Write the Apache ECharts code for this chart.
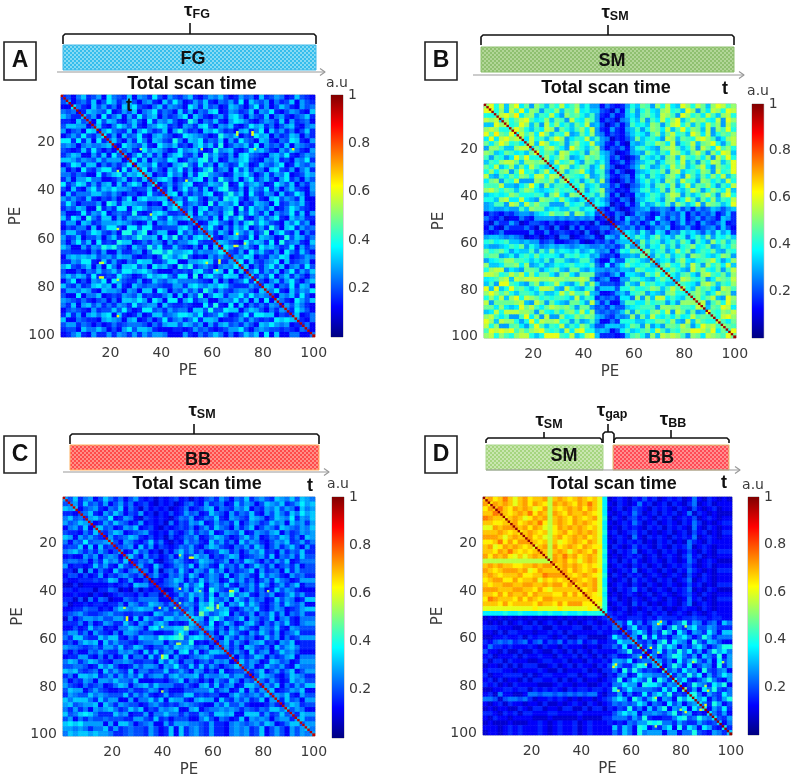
<!DOCTYPE html>
<html><head><meta charset="utf-8">
<script src="https://cdn.jsdelivr.net/npm/echarts@6/dist/echarts.min.js"></script>
<style>html,body{margin:0;padding:0;background:#fff}#c{width:794px;height:779px}</style></head>
<body><div id="c"></div>
<script>
// Correlation maps are symmetric: each row lists the upper triangle, two PE per letter.
// Letter code: a=0.04, b=0.08 ... y=1.00
const rowsA=[
"decfhdegci fedhcgfdie cgedfhdceg fhecdgefch degfcdhedc","gcefdhceig dfhecfgdch eifcdgehdc fegdichfeg cfdehcged",
"ifdchegdfc hgiedcfhdg fecigdhefc dhgecfidgc ehfdcgef","cdhgfeicdg ehcfgidfec hdgcfehicd gfdehcgfid cegfdch",
"hegcidfhcg dieghcfdeg ichfdcegdh ifcgedhcfg dcefhd","fciehgdcfh ecidgfhecd jgcfehdcgi hfdcegfdhc gdefc",
"ehdcfigehd cfgihdecgf dhiecgfhdc eighdfcegh dcfg","cgifedhcgi fdehcgjfde chgifdecgh dfichegdfc ehd",
"idgchefidc ghfecdihgf ecdjgfhced ighcfdehgc fd","fhecgdifch gedjfchgid fehcgdifec hgdcfeihdc g",
"dcigfehdci gfhdecgifh djcegfhdic gefdhcgfed","hegdcifhge cdifghecdj fghdceighf dcgehfdcg",
"gcfiehdgcf hiedgcjfhe dgchifedcg hfidcegf","eidhcgfeih cdgfijehcd gfhiedcgfh decgfid",
"chgfidecgh jfdiegchfd eigcdhfegi cdhfegc","fidgechfid gcehjdfgci ehdgfchied gcfhd",
"ghcedifgch dijgfecdhg ifcehdgfic dehg","dfhigcedfh icgdjfehcg idfhecgidf cge",
"icegdfhicd ehgfjcdieg hfcdigehcf dg","gdhcfiegdh cfijedgchf eidgcfhedc g",
"ehicgdfehi cdgjfhciedg fchdeigcf","cfgdihecfg djhiecfgdc hieg fdhc",
"hidfgecjdh gficedhgfc idegfhdc","fegchidfeg hcjdifgehc dfigedc",
"dhciegfdhj cgeifdhcge fidhcg","iefgdhcieg jdcfhegidc hfgd",
"gcdhifecgd hjfigedchf iegc","hfiecgdhfi cegdjfchid gef",
"egdhfcigeh dfjcgiedhc fd","idcfghedic hgfcdjehgd f",
"fhgedcifhg dicjefgdch","cigdfhecig hfdeicgdf",
"hedgcifhed gcifdhecd","dgfihcedgf ihcdegf",
"gichedfgic hdefgcd","ehcfdgiehc fgdie",
"cfidgehcfi dgehc","hdgeicfhdg ecfd",
"iecfhdgiec fhd","dhgcfeidhg ce","gfidchegfi d","ecgfhdiecg","hfdcigehf","cgehfdcg","fdigecf","ehcdfg","gdcfe","dfce","ecd","fd","ce","d"];
const rowsB=[
"mojnhmoilgmkhljnikmhjg g cfdcd g jhlkgmjnihomjnlhmonkm","ojmhnkoimlgkjmhlknijh h edbfc h kgjlihmnjkhomglinmjon",
"knompilmhkjnigmkljhk g dcfcd h igkljhnmkgomjlinkhmnj","hmjlnokijmhlkgnjimk g cedbf g jhlgkinjmohknlmjingom",
"njkomhlgnjmikhljng h ebdfc f kijhmlgknojmhlinkmgnk","lomjhkinmgljhkmin g dcgdc g hkgjmlinhkojmlhngmkoj",
"jnkmiolhkjnghlimg f cedcf h jigkmhlnjkhomingjlkmh","minjkhlomgikjnhk g fbdce g lhjkignmhlkjnomkgimnj",
"knhomijlgkmjinh g dcfcb h ghkjmlingjknhlmojgknmi","hljmnkigoljhkm f cedfc g jkihglmnkhjmgnliokmjh",
"ojlkhnmjikgmlh g ebcdg h gljhkinmjhlnkgmjonhmk","jmiknlghjmkli g dfcbd f kihjglmhnkjlimgnkojml",
"lhnjkmiglkhj g cdfce g hjkgilmjnhkgljnmhkomj","kinmhjlkgim g ebcdf h ljghkinkmhjlnigmkjonh",
"jmhklnigjk f cfdbc g hikjlgmnhjkimlgnjkomh","hlkjimghk g dcefc h jgkihlmjgnkhlimjnhkm",
"nikgjlhm f cbdfd g ikhjgmlhnkjgmlikhnjom","kjmhikg g dfcbe f hjgklimgjnhlkmjgkinm",
"hlgjkm f ecdcf g jkhilgmjhknlgjmkinhl","jikhl g cfbdc h gikjhlnmgkhjlnkgmoji",
"kgjh f dcfeb g hjkiglmhjnkglimhkjnm","hji g bdcfc f jghkilgmkhjngmlkhjom",
"g e cfdbc e fghefgfdhegdgefhgeghfe","f dcfeb dgfecdgefehcfdfegcehdf gefd",
"ebfc hfegdcifdgeh cegdfechgd fecd","cde gdfcehdgfceh dfcgedfhcd egc",
"hf egdfcegfhcde gdcefgdhec dfe","g ihfjgeihdgfjh igehfjgidh egf",
"jh kigjlhigkjfikhl gjikhljgi lhk","ig lhkjgikhljfkig mjlhkglj hmk",
"hk gjilhkgjkmijlg hkilgjmk jl","il hjkgimjlgikjl hgkjmilg ki",
"jg kilhjkgmlkihj mlgkjnkl hm","lh ijgkmihjklnjg imlkhjm kl",
"gk mjilhnkgmjlin hkmjln jm","ki ljhgnkmjilgkn jlmhk ln",
"mj hkligmnkjlhm kgnjl mo","ih nmkjlgimlkn jhml kn",
"lk jigmnlhkjmo lkin ml","nj hmklignmkl jon lm",
"il mkhjnlmgo kln mj","km jlnhgomkl inm o",
"ln gkmjolin mk ln","mh lkonimjl no",
"ok jmlnhl mo","lj nomkil n","nk ilmo jn","ml konim","jo lnmk","lnmjo","kmn","nl","mo","n"];
const rowsC=[
"gehdfgcehf dfcegdcdbd cdecdbdcef dgecfehdfg edhgfhehgf","fgdhefdgce gdfcdecbdc dbcefdcgde fcdhegfceh gfhdegigh",
"hcefgdcfeh cfdbecdcdb cdfcdeghcf edgfhcedgf hegfchfg","efhdcgehfc edgcdbdcec dgefcdhfec gdfehdcgeh fdhfigh",
"dghfeicdgf cbedcdcbdf egcdfehdcg fedhgfcehg fidgfh","fcdgehfecd gcdcdbfced gfhcdgefdh cegfdehfgc hfgdg",
"ghefcdgfhc decbdcdedf cegdhfecgd fhcegfdhgf egfhe","edfhgcdefg dcdcfdcegd fehcdgfehc dgfeghcfde gfg",
"cgdefhgdce cdbecdfegc dfhgecdfhe gcdfehgdfc hg","hecgfdcehd fcbdcgefdc hegdfchegf dcegfhdegd f",
"defgchdgce dcdfegdcfh gedcfegdhf cegdfhecgd","gcdhefcdbe cfhegdfcde hgdfcegfhd ecgdfehd",
"fhecgdecdf cgdehfgced fhgcdefgdh cfeg dhe","cdfegcbdeg fdcehgfdeg cfdhgecfdg ehcdf",
"egdchecdfg ehcgfdchef dgcehfdgce fdgce","dfcgbefdhe cgfdhegcfd efhcgdefch dge",
"cegdcfegdh fcegfdhceg fdchegfdcg efd","bdcefhgcfd hegfcdhegd fcegdhfecd g",
"cdefgdhegi cfgehdcfeg dhfcegdfhc e","dbcfegdhfc jgedfhcegd fcdhegfdc",
"ecdgehfgdh cgfjeghdcf egcdfhegd","cfdehcgdif egchfdgefc dhegfcdh",
"degfdhgjeh cgfiehfdce gdhfegc","fegchikfgh dcegfhdceg fcdegh",
"hgdlgefhic fdegcfehdg cfegd","ihgchjgdef hcgfdehcfg dcf",
"gfdicehfcd ghecfdgehd cfg","eghdfcgehf dcgfehdcgf e",
"dfcgehfdcg ehfdgcefhd","gechfdgefc dhegcfdeg",
"cfhdgecfgh decgfhcd","egdfchgedf cheghfd",
"fdgechdfgc ehfgec","gcfdehgcfd eghcf",
"dhegfcdhge fcdg","fegcdhfegd chf",
"gdfhcegdfh ceg","cehgfdcehg fd",
"hfdgecdhfg e","dgehcfdgeh","fhcdegfhc","egfhdcge",
"gdhefcg","cfhgde","hegfc","fdhg","ghe","eg","hf","g"];
const rowsD=[
"qrpqsqoqrpqqrnqrqpqrqpq o i bcdcbdcecdbcdcdbcfcbdcbcb","prqrqoqrprqpnrqrqprqsq o i cbdcbcfcdbcdbdcbdfbcdbcc",
"qsqprqrqoprnqpqrqrprq o i bcdbcedcbdcdcbdcbecbcdbc","rqpqrqsprqnrqprqqrqp o i cbcdcfdbcdbdcdbcfbdcbcb",
"pqrqoprqrnqrqprqpqr o j bdcbdecdcbdcdbcdcebcdcbc","qrpqrqspnqrqprqrqp o i cbcdcfdbcdbcdcbdcfdbcbcd",
"rqrprqonprqrqrqpq o i bcbdcdcbdcdbdcdcbfcbdcbc","pqrqpqnpqrpqrqrq o j cdbcdecdbcbcdbcdbecdbcbd",
"qrpqonqrpqrqrpq o i bcdcbfcbdcdcbdcdcfbcdcbc","rqpqnqopqrqprq o i cbdcdcdbcbdcdbcbfdcbdcc",
"oqrnrpqrqprqp p i bdcbcecdcbdcbdcdfbcdcbc","rqnqrqoqrqpr o j cbdcdfbcdcbdcdbcecbdcbd",
"qnrqsqrpqrq o i bcbcdcdbcdbcdcbdfcdbcbc","nrqrpqoqrq o j cdbdcecbcdcbdcbcfdbcdcb",
"pqrqrqpqp o i bcdcbdcdbcdbcdcdecbcdbc","qrprqpqr p i cbcdcfbcdcbdcbdcfdcbcbd",
"rqpqrqp o j bdcbdcdbcdcbcdcbecbdcbc","qrqpqr o i cbcdbecdcbdcdbcdfbcdcbc",
"pqrqr o i bcdcbdcbdcbcdcbcecdbcbd","qpqr o j cbdcdfcdbcdcbdcdfbcbdcb",
"rqp o i bcbcdcbcdbcdcbcdecbdcbc","qp p j cdbcbdcbcdcbdcbcfcdbcbd",
"p o j bcdcbecdbcbcdcbdfbcdcbc","n j cbcdbcbcdcdbcbcdccbdcbc",
"i dcdcbcdcbdcdbcdcbdcbcdc","e dccdddcdcedddcddeddcddc",
"e fdidfcegifcefjdgfcefchf","f cfidecgfcfjfdgieegfd",
"f dgifcfdjgcifcgfdifch","f gcjdidecfgifcejgdf",
"h edfcgjdigfcjfdhgec","j dgejfigcfdgifcegj",
"h cfidgejfidgcfjgif","i fcegjifdgchfdjcg",
"h gdfciegjfdgcieg","i cfjgdicegfcjdgc",
"j egdifgcjedfgce","i dgejficgdfigc",
"j fidcegjfdcgi","i cejgfdigjce",
"l dgcifjedfg","i jfcgedifcg",
"i gicfdgjce","i fdjgcei","j cgeid","i fdgc","i edg","h cf","i d","h g","g d","i"];
const hotA=[[23,56,0.58],[23,92,0.62],[23,77,0.6],[16,76,0.62],[16,70,0.55],[70,17,0.58],[76,17,0.6],[77,23,0.55],[92,23,0.62],[32,23,0.55],[36,50,0.52],[50,36,0.58],[58,70,0.6],[63,70,0.55],[70,58,0.58],[73,62,0.55],[69,63,0.6]];
const hotB=[];
const hotC=[[46,46,0.52],[47,47,0.5],[45,47,0.5],[25,47,0.55],[26,51,0.6],[39,47,0.6],[40,67,0.6],[40,55,0.5],[46,62,0.55],[47,25,0.55],[52,26,0.6],[58,47,0.5],[62,47,0.55],[68,40,0.55],[82,40,0.55]];
const hotD=[[54,71,0.62],[72,53,0.6],[66,71,0.55],[68,64,0.62],[82,82,0.55],[85,70,0.55],[91,82,0.6],[88,90,0.6],[80,90,0.55],[82,55,0.55],[97,70,0.55]];
const diagonalValues=[0.95,0.97,0.94,0.98];
const peNames=[];for(let i=1;i<=100;i++)peNames.push(String(i));
const colorbarTop=[1];
const jet=['#00007f','#0000ff','#007fff','#00ffff','#7fff7f','#ffff00','#ff7f00','#ff0000','#7f0000'];

function build(rows,hot,diag){
  const m=[];for(let i=0;i<50;i++)m.push(new Array(50).fill(0));
  rows.forEach((r,k)=>{const s=r.replace(/ /g,'');
    for(let j=k;j<50;j++){const c=s[j-k]||s[s.length-1];const v=(c.charCodeAt(0)-96)*0.04;m[k][j]=v;m[j][k]=v;}});
  const over={};
  hot.forEach(h=>{over[(h[0]-1)+'_'+(h[1]-1)]=h[2];over[(h[1]-1)+'_'+(h[0]-1)]=h[2];});
  const out=[];
  for(let i=0;i<100;i++)for(let j=0;j<100;j++){
    let v=m[i>>1][j>>1];const key=i+'_'+j;
    if(key in over)v=over[key];
    if(i===j)v=diag;
    out.push([j,i,+v.toFixed(3)]);
  }
  return out;
}
const panels=[
 {rows:rowsA,hot:hotA,g:[61,95,254,242],cb:[331,95,12,242]},
 {rows:rowsB,hot:hotB,g:[484,104,252,234],cb:[752,104,12,234]},
 {rows:rowsC,hot:hotC,g:[63,497,252,241],cb:[332,497,12,241]},
 {rows:rowsD,hot:hotD,g:[483,497,249,238],cb:[748,497,11,238]}
];
const txt='#3a3a3a',fam='"DejaVu Sans",sans-serif';
const opt={animation:false,backgroundColor:'#fff',grid:[],xAxis:[],yAxis:[],series:[],visualMap:[],graphic:{elements:[]}};
panels.forEach((p,i)=>{
  const gi=opt.grid.length;
  opt.grid.push({left:p.g[0],top:p.g[1],width:p.g[2],height:p.g[3],show:true,borderColor:'#b0b0b0',borderWidth:1,backgroundColor:'transparent'});
  opt.xAxis.push({type:'category',gridIndex:gi,data:peNames,name:'PE',nameLocation:'middle',nameGap:27,nameTextStyle:{fontFamily:fam,fontSize:15,color:txt},
    axisLine:{show:false},axisTick:{show:false},splitLine:{show:false},
    axisLabel:{interval:(k,v)=>+v%20===0,margin:9,fontFamily:fam,fontSize:14,color:txt,hideOverlap:false}});
  opt.yAxis.push({type:'category',gridIndex:gi,data:peNames,inverse:true,name:'PE',nameLocation:'middle',nameGap:37,nameRotate:90,nameTextStyle:{fontFamily:fam,fontSize:15,color:txt},
    axisLine:{show:false},axisTick:{show:false},splitLine:{show:false},
    axisLabel:{interval:(k,v)=>+v%20===0,margin:6,fontFamily:fam,fontSize:14,color:txt,hideOverlap:false}});
  opt.series.push({type:'heatmap',xAxisIndex:gi,yAxisIndex:gi,data:build(p.rows,p.hot,diagonalValues[i]),progressive:0,itemStyle:{borderWidth:0},emphasis:{disabled:true}});
  opt.visualMap.push({show:false,type:'continuous',min:0,max:1,seriesIndex:opt.series.length-1,dimension:2,inRange:{color:jet}});
});
panels.forEach(p=>{
  const gi=opt.grid.length;
  opt.grid.push({left:p.cb[0],top:p.cb[1],width:p.cb[2],height:p.cb[3],show:true,borderColor:'#b0b0b0',borderWidth:1,backgroundColor:'transparent'});
  opt.xAxis.push({type:'category',gridIndex:gi,data:['a.u'],show:false});
  opt.yAxis.push({type:'value',gridIndex:gi,min:0,max:1,interval:0.2,position:'right',splitLine:{show:false},axisLine:{show:false},axisTick:{show:false},
    axisLabel:{margin:5,fontFamily:fam,fontSize:14,color:txt,formatter:v=>v===0?'':String(v)}});
  const stops=jet.map((c,k)=>({offset:1-k/8,color:c})).reverse();
  opt.series.push({type:'bar',xAxisIndex:gi,yAxisIndex:gi,data:colorbarTop,barWidth:'100%',silent:true,
    itemStyle:{color:{type:'linear',x:0,y:0,x2:0,y2:1,colorStops:stops}}});
});

function pattern(a,b){
  const c=document.createElement('canvas');c.width=4;c.height=4;const x=c.getContext('2d');
  x.fillStyle=a;x.fillRect(0,0,4,4);x.fillStyle=b;x.fillRect(0,0,2,2);x.fillRect(2,2,2,2);
  return {image:c,repeat:'repeat'};
}
const E=opt.graphic.elements;
function text(s,x,y,font,color,rich){E.push({type:'text',silent:true,z:20,style:{text:s,x:x,y:y,font:font,fill:color||'#111',align:'center',verticalAlign:'middle',rich:rich}});}
const bold='bold 18px "Liberation Sans",Arial,sans-serif';
function line(pts,color,w){E.push({type:'polyline',silent:true,z:20,shape:{points:pts},style:{stroke:color||'#111',lineWidth:w||1.6,fill:null,lineJoin:'round'}});}
function brace(x0,x1,yt,yb,sx,st){line([[x0,yb],[x0,yt+2],[x0+2,yt],[x1-2,yt],[x1,yt+2],[x1,yb]]);line([[sx,yt],[sx,st]]);}
function tau(sub,x,y){text('{t|τ}{s|'+sub+'}',x,y,'bold 18px "Liberation Sans"','#111',{t:{font:'bold 19px "Liberation Sans"',fill:'#111'},s:{font:'bold 12.5px "Liberation Sans"',fill:'#111',padding:[7,0,0,0]}});}
function bar(x0,x1,y0,y1,a,b,edge){E.push({type:'rect',silent:true,z:19,shape:{x:x0,y:y0,width:x1-x0,height:y1-y0},style:{fill:pattern(a,b),stroke:edge,lineWidth:1}});}
function arrow(x0,x1,y){line([[x0,y],[x1,y]],'#999',1.2);line([[x1-5,y-3.5],[x1,y],[x1-5,y+3.5]],'#999',1.2);}
function box(x,y,w,h,s){E.push({type:'rect',silent:true,z:20,shape:{x:x,y:y,width:w,height:h},style:{fill:'#fff',stroke:'#222',lineWidth:1.6}});text(s,x+w/2,y+h/2,'bold 23px "Liberation Sans"','#111');}
const cols={fg:['#35bdec','#86daf4','#43b8e6'],sm:['#8fc070','#b2d698','#8cc06c'],bb:['#ff4a4a','#ff9088','#ffb060'],sm2:['#a5d57f','#c9e6b0','#a9d78a'],bb2:['#ff4a55','#ff9090','#e0c070']};
// A
box(4,42,32,38,'A');tau('FG',197,11);brace(63,316,34,44,190,23);bar(63,316,45,70,cols.fg[0],cols.fg[1],cols.fg[2]);text('FG',193,59,bold);arrow(57,325,72);text('Total scan time',192,84,bold);text('t',129,106,'bold 18px "Liberation Sans"');text('a.u',337,83,'14px '+fam,txt);
// B
box(425,42,32,38,'B');tau('SM',615,13);brace(481,734,35,45,608,25);bar(481,734,47,72,cols.sm[0],cols.sm[1],cols.sm[2]);text('SM',612,61,bold);arrow(473,744,75);text('Total scan time',606,88,bold);text('t',725,89,'bold 18px "Liberation Sans"');text('a.u',758,91,'14px '+fam,txt);
// C
box(4,436,32,37,'C');tau('SM',202,411);brace(70,319,434,444,194,424);bar(70,319,445,470,cols.bb[0],cols.bb[1],cols.bb[2]);text('BB',198,460,bold);arrow(63,329,472);text('Total scan time',197,484,bold);text('t',310,486,'bold 18px "Liberation Sans"');text('a.u',338,484,'14px '+fam,txt);
// D
box(425,436,32,37,'D');tau('SM',549,421);tau('gap',612,411);tau('BB',673,420);
brace(486,602,438,443,544,432);brace(603,614,432,443,608,424);brace(614,729,438,443,671,430);
bar(486,603,445,470,cols.sm2[0],cols.sm2[1],cols.sm2[2]);bar(613,729,445,470,cols.bb2[0],cols.bb2[1],cols.bb2[2]);
text('SM',564,456,bold);text('BB',661,458,bold);arrow(486,740,470);text('Total scan time',612,484,bold);text('t',724,483,'bold 18px "Liberation Sans"');text('a.u',753,485,'14px '+fam,txt);

echarts.init(document.getElementById('c'),null,{renderer:'canvas'}).setOption(opt);
</script></body></html>
